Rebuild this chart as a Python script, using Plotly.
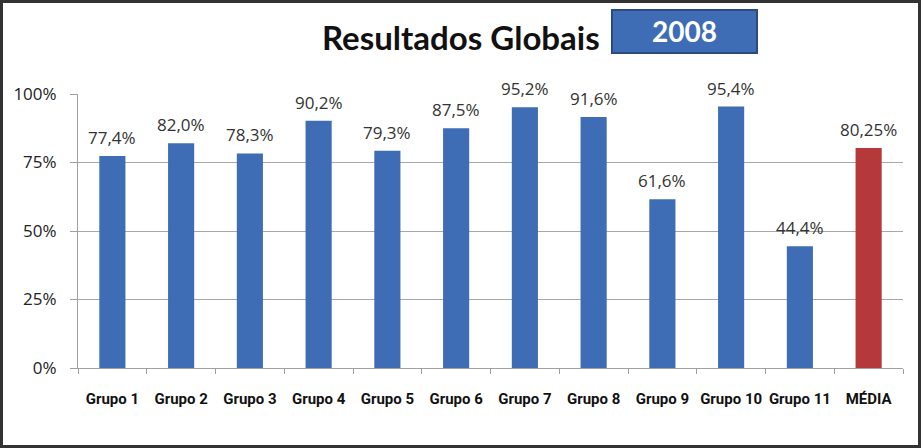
import plotly.graph_objects as go

categories = ["Grupo 1", "Grupo 2", "Grupo 3", "Grupo 4", "Grupo 5", "Grupo 6",
              "Grupo 7", "Grupo 8", "Grupo 9", "Grupo 10", "Grupo 11", "MÉDIA"]
values = [77.4, 82.0, 78.3, 90.2, 79.3, 87.5, 95.2, 91.6, 61.6, 95.4, 44.4, 80.25]
value_labels = ["77,4%", "82,0%", "78,3%", "90,2%", "79,3%", "87,5%", "95,2%",
                "91,6%", "61,6%", "95,4%", "44,4%", "80,25%"]
tick_vals = [0, 25, 50, 75, 100]
tick_text = ["0%", "25%", "50%", "75%", "100%"]
title_text = "Resultados Globais"
year_text = "2008"

W, H = 921, 448
ML, MR, MT, MB = 78, 18, 94, 80
PW = W - ML - MR
PH = H - MT - MB

def px(x):
    return (x - ML) / PW

def py(y):
    return 1 - (y - MT) / PH

colors = ["#3F6DB5"] * (len(categories) - 1) + ["#B5393A"]
label_font = dict(family="Open Sans, DejaVu Sans, sans-serif", size=17, color="#333333")

fig = go.Figure()
fig.add_trace(go.Bar(
    x=categories, y=values, marker=dict(color=colors, line=dict(width=0)),
    hoverinfo="skip",
))

for cat, val, lab in zip(categories, values, value_labels):
    fig.add_annotation(x=cat, y=val, text=lab, showarrow=False,
                       xanchor="center", yanchor="bottom", yshift=5,
                       font=label_font)

fig.update_layout(
    width=W, height=H,
    margin=dict(l=ML, r=MR, t=MT, b=MB, autoexpand=False),
    paper_bgcolor="white", plot_bgcolor="white",
    showlegend=False, bargap=0.62,
    xaxis=dict(
        tickfont=dict(family="Roboto, sans-serif", size=15, color="#111111", weight="bold"),
        tickangle=0, automargin=False,
        showline=True, linecolor="#A0A0A0", linewidth=1,
        ticks="outside", ticklen=5, tickcolor="#A0A0A0", tickson="boundaries",
        showgrid=False, ticklabelstandoff=17,
    ),
    yaxis=dict(
        range=[0, 100], tickvals=tick_vals, ticktext=tick_text, automargin=False,
        tickfont=dict(family="Open Sans, DejaVu Sans, sans-serif", size=17, color="#222222"),
        showgrid=True, gridcolor="#A8A8A8", gridwidth=1,
        showline=True, linecolor="#A0A0A0", linewidth=1,
        ticks="outside", ticklen=7, tickcolor="#A0A0A0",
        zeroline=False, ticklabelstandoff=10,
    ),
)

# title
fig.add_annotation(
    text="<b>" + title_text + "</b>", xref="paper", yref="paper",
    x=px(461), y=py(37), showarrow=False, xanchor="center", yanchor="middle",
    font=dict(family="Lato, Open Sans, sans-serif", size=33, color="#111111"),
)
# year box
fig.add_shape(type="rect", xref="paper", yref="paper",
              x0=px(612), x1=px(757), y0=py(53), y1=py(10),
              fillcolor="#3F6DB5", line=dict(color="#2A4A80", width=2), layer="above")
fig.add_annotation(
    text="<b>" + year_text + "</b>", xref="paper", yref="paper",
    x=px(684), y=py(31), showarrow=False, xanchor="center", yanchor="middle",
    font=dict(family="Lato, Open Sans, sans-serif", size=28, color="white"),
)
# outer frame
fig.add_shape(type="rect", xref="paper", yref="paper",
              x0=px(1.5), x1=px(W - 1.5), y0=py(H - 1.5), y1=py(1.5),
              fillcolor="rgba(0,0,0,0)", line=dict(color="#333333", width=3), layer="above")

fig.write_html("out.html", config={"displayModeBar": False},
               post_script="document.body.style.margin='0';document.body.style.overflow='hidden';")
